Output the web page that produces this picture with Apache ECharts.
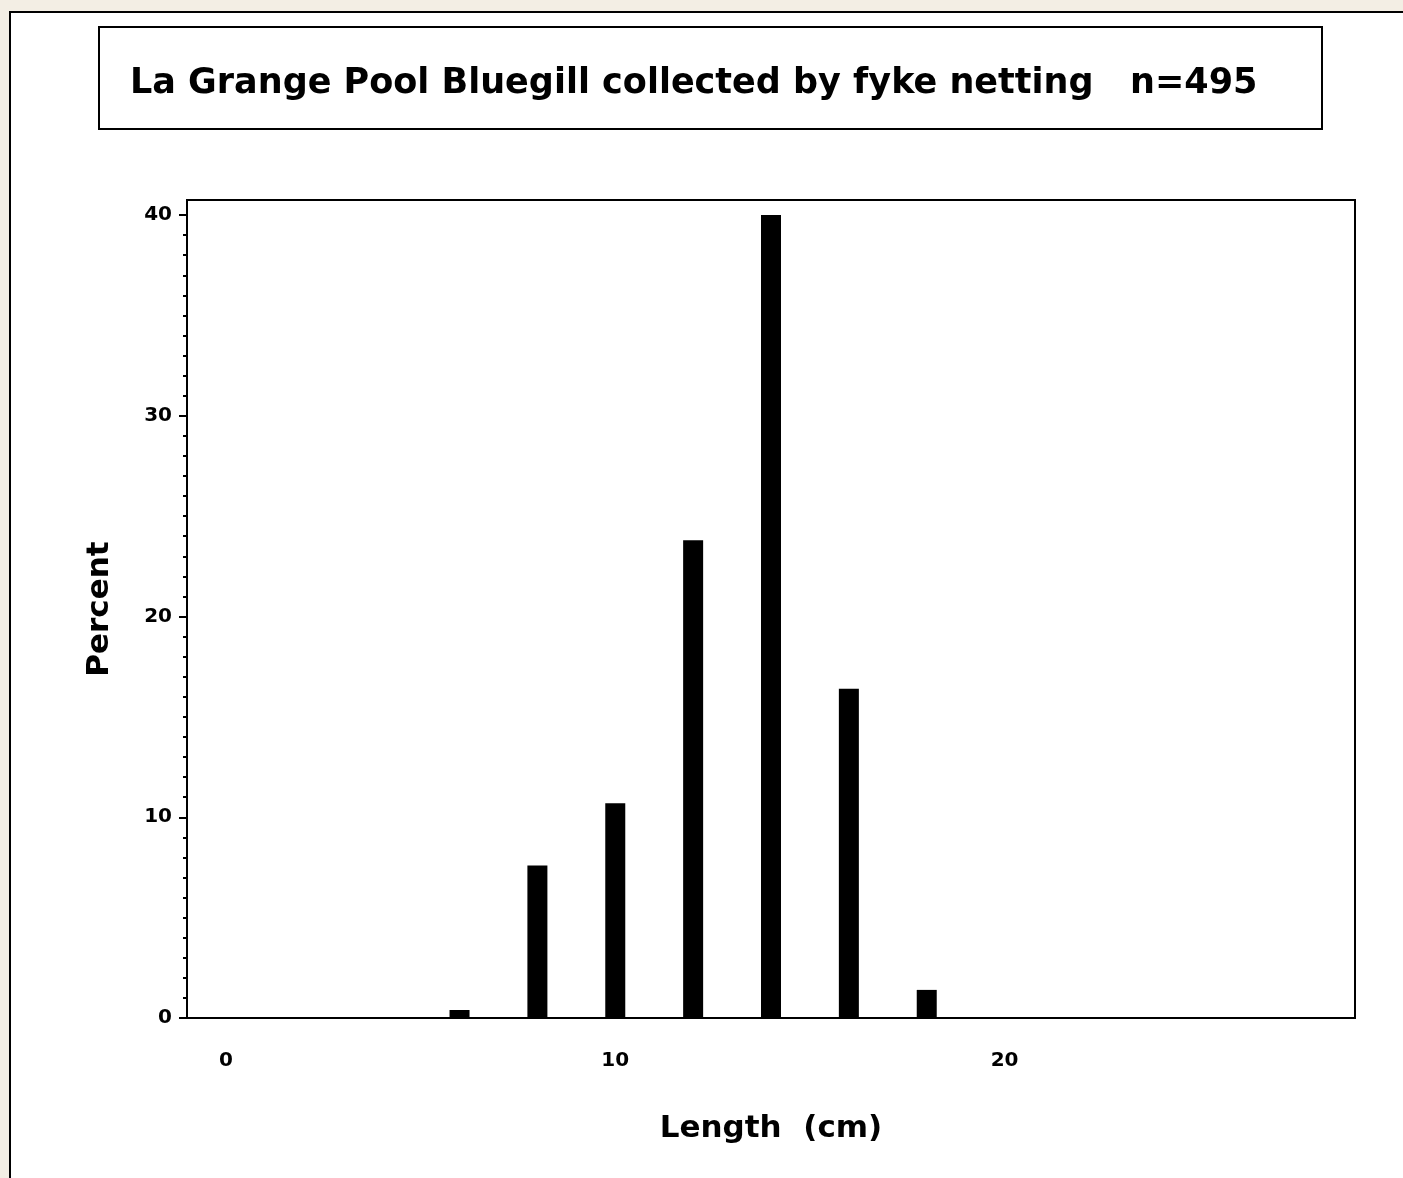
<!DOCTYPE html>
<html>
<head>
<meta charset="utf-8">
<script src="https://cdn.jsdelivr.net/npm/echarts@6/dist/echarts.min.js"></script>
<style>
  html, body { margin: 0; padding: 0; width: 1403px; height: 1178px; overflow: hidden; background: #f3eee4; }
  #panel { position: absolute; left: 9px; top: 11px; width: 1420px; height: 1200px; background: #ffffff; border: 2px solid #000; box-sizing: border-box; }
  #chart { position: absolute; left: 0; top: 0; width: 1403px; height: 1178px; }
</style>
</head>
<body>
<div id="panel"></div>
<div id="chart"></div>
<script>
// ---- data ----
const titleText = 'La Grange Pool Bluegill collected by fyke netting   n=495';
const xAxisTitle = 'Length  (cm)';
const yAxisTitle = 'Percent';
const lengthClasses = [6, 8, 10, 12, 14, 16, 18];
const percentValues = [0.4, 7.6, 10.7, 23.8, 40.0, 16.4, 1.4];
const xTickLabels = [0, 10, 20];
const yMajorTicks = [0, 10, 20, 30, 40];
const yMinorTicks = [1, 2, 3, 4, 5, 6, 7, 8, 9, 11, 12, 13, 14, 15, 16, 17, 18, 19,
                     21, 22, 23, 24, 25, 26, 27, 28, 29, 31, 32, 33, 34, 35, 36, 37, 38, 39];

const barData = lengthClasses.map((x, i) => [x, percentValues[i]]);
const FONT = '"DejaVu Sans", "Liberation Sans", Arial, sans-serif';

const chart = echarts.init(document.getElementById('chart'), null, { renderer: 'canvas', width: 1403, height: 1178 });
chart.setOption({
  backgroundColor: 'transparent',
  animation: false,
  title: {
    text: titleText,
    left: 125,
    top: 61,
    textStyle: { fontFamily: FONT, fontSize: 35, fontWeight: 'bold', color: '#000' }
  },
  graphic: [{
    type: 'rect',
    shape: { x: 99, y: 27, width: 1223, height: 102 },
    style: { fill: 'none', stroke: '#000', lineWidth: 2 },
    silent: true
  }],
  grid: {
    left: 187, top: 200, right: 48, bottom: 160,
    show: true, borderColor: '#000', borderWidth: 2, backgroundColor: 'transparent',
    containLabel: false
  },
  xAxis: {
    type: 'value',
    min: -1, max: 29,
    axisLine: { show: false, onZero: false },
    axisTick: { show: false },
    splitLine: { show: false },
    axisLabel: {
      customValues: xTickLabels,
      margin: 33,
      fontFamily: FONT, fontSize: 20, fontWeight: 'bold', color: '#000'
    },
    name: xAxisTitle,
    nameLocation: 'middle',
    nameGap: 95,
    nameTextStyle: { fontFamily: FONT, fontSize: 31, fontWeight: 'bold', color: '#000' }
  },
  yAxis: [{
    type: 'value',
    position: 'left',
    min: 0, max: 40.75,
    axisLine: { show: false, onZero: false },
    splitLine: { show: false },
    axisTick: { customValues: yMajorTicks, length: 8, lineStyle: { color: '#000', width: 2 } },
    axisLabel: { customValues: yMajorTicks, margin: 15, fontFamily: FONT, fontSize: 20, fontWeight: 'bold', color: '#000' },
    name: yAxisTitle,
    nameLocation: 'middle',
    nameGap: 72,
    nameRotate: 90,
    nameTextStyle: { fontFamily: FONT, fontSize: 31, fontWeight: 'bold', color: '#000' }
  }, {
    type: 'value',
    position: 'left',
    min: 0, max: 40.75,
    axisLine: { show: false, onZero: false },
    splitLine: { show: false },
    axisTick: { customValues: yMinorTicks, length: 4, lineStyle: { color: '#000', width: 2 } },
    axisLabel: { show: false }
  }],
  series: [{
    type: 'bar',
    xAxisIndex: 0,
    yAxisIndex: 0,
    data: barData,
    barWidth: 20,
    itemStyle: { color: '#000' },
    silent: true
  }]
});
</script>
</body>
</html>
